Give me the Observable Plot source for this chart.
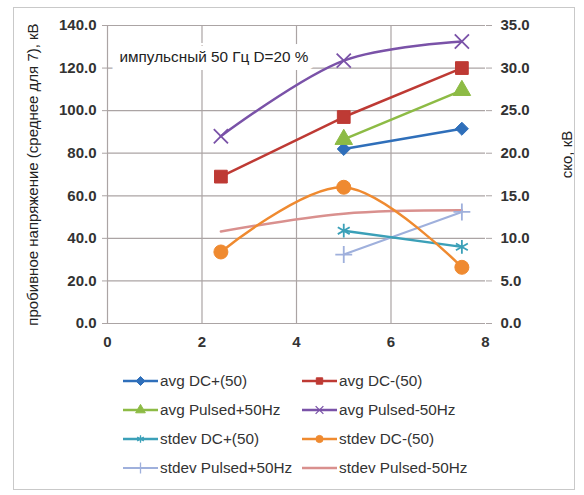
<!DOCTYPE html>
<html>
<head>
<meta charset="utf-8">
<script src="https://cdn.jsdelivr.net/npm/d3@7"></script>
<script src="https://cdn.jsdelivr.net/npm/@observablehq/plot@0.6"></script>
<style>
  html, body { margin: 0; padding: 0; background: #fff; }
  #wrap { position: relative; width: 584px; height: 495px; font-family: "Liberation Sans", Arial, sans-serif; }
  #frame { position: absolute; left: 13px; top: 7px; width: 560px; height: 481px; border: 1.5px solid #c9c9c9; pointer-events: none; }
  #chart { position: absolute; left: 0; top: 0; }
  #legend { position: absolute; left: 122px; top: 366px; display: grid; grid-template-columns: 179px 210px; grid-auto-rows: 29px; }
  .item { display: flex; align-items: center; font-size: 15.3px; color: #333; white-space: nowrap; }
  .item svg { margin-right: 1px; }
</style>
</head>
<body>
<div id="wrap">
  <div id="chart"></div>
  <div id="legend"></div>
  <div id="frame"></div>
</div>
<script>
// ---- data ----
const xValues = [2.4, 5, 7.5];
const avgDCPlus = [null, 82, 91.5];
const avgDCMinus = [69, 97, 120];
const avgPulsedPlus = [null, 86.5, 109.5];
const avgPulsedMinus = [88, 123.5, 132.5];
const stdevDCPlus = [null, 10.9, 9.0];
const stdevDCMinus = [8.4, 16.0, 6.6];
const stdevPulsedPlus = [null, 8.1, 13.1];
const stdevPulsedMinus = [10.8, 12.9, 13.3];
const seriesNames = ["avg DC+(50)", "avg DC-(50)", "avg Pulsed+50Hz", "avg Pulsed-50Hz",
                     "stdev DC+(50)", "stdev DC-(50)", "stdev Pulsed+50Hz", "stdev Pulsed-50Hz"];
const xTicks = [0, 2, 4, 6, 8];
const leftTicks = [0, 20, 40, 60, 80, 100, 120, 140];
const rightTicks = [0, 5, 10, 15, 20, 25, 30, 35];
const leftTitle = "пробивное напряжение (среднее для 7), кВ";
const rightTitle = "ско, кВ";
const annotation = "импульсный 50 Гц D=20 %";

// ---- styles ----
const seriesValues = [avgDCPlus, avgDCMinus, avgPulsedPlus, avgPulsedMinus,
                      stdevDCPlus, stdevDCMinus, stdevPulsedPlus, stdevPulsedMinus];
const onRight = [false, false, false, false, true, true, true, true];
const colors = ["#2f6fba", "#be3a34", "#8dbb45", "#7a52a8", "#3ba0b8", "#ef8a30", "#9fb0dc", "#d9908e"];
const rhombus = {
  draw(context, size) {
    const r = Math.sqrt(size / 2);
    context.moveTo(0, -r); context.lineTo(r, 0); context.lineTo(0, r); context.lineTo(-r, 0); context.closePath();
  }
};
const symbols = [rhombus, "square", "triangle", "times", "asterisk", "circle", "plus", null];
const symbolFill = [true, true, true, false, false, true, false, false];
const radii = [5.2, 7.2, 6.5, 6.5, 6.5, 7, 5.5, 0];
const widths = [2.5, 2.5, 2.5, 2.5, 2.5, 2.5, 2, 2.5];
const curves = ["linear", "linear", "linear", "catmull-rom", "linear", "catmull-rom", "linear", "catmull-rom"];

const scale = 140 / 35; // right axis -> left axis

const marks = [];
const grid = "#aba4a4";
marks.push(Plot.gridY(leftTicks, {stroke: grid, strokeOpacity: 1, strokeWidth: 1.2}));
marks.push(Plot.ruleX(xTicks.filter(d => d < 8), {y1: 0, y2: 140, stroke: grid, strokeWidth: 1.2}));
marks.push(Plot.text([annotation], {frameAnchor: "top-left", dx: 12, dy: 26, textAnchor: "start",
  fontSize: 15.3, fill: "#222", stroke: "white", strokeWidth: 16, paintOrder: "stroke", strokeLinejoin: "miter"}));

const order = [7, 6, 4, 5, 0, 2, 1, 3];
for (const i of order) {
  const data = xValues.map((x, k) => ({x, v: seriesValues[i][k]})).filter(d => d.v != null);
  const yf = onRight[i] ? (d => d.v * scale) : (d => d.v);
  marks.push(Plot.line(data, {x: "x", y: yf, stroke: colors[i], strokeWidth: widths[i], curve: curves[i]}));
  if (symbols[i]) {
    marks.push(Plot.dot(data, {x: "x", y: yf, symbol: () => symbols[i], r: radii[i],
      fill: symbolFill[i] ? colors[i] : "none", stroke: colors[i], strokeWidth: symbolFill[i] ? 1 : 1.8}));
  }
}

marks.push(Plot.axisY(leftTicks, {anchor: "left", tickFormat: d => d.toFixed(1), tickSize: 5, stroke: grid,
  tickPadding: 6, fontSize: 15, fontWeight: "bold", fill: "#333", label: null}));
marks.push(Plot.axisY(leftTicks, {anchor: "right", tickFormat: d => (d / scale).toFixed(1), tickSize: 6, stroke: grid,
  tickPadding: 9, fontSize: 15, fontWeight: "bold", fill: "#333", label: null}));
marks.push(Plot.axisX(xTicks, {anchor: "bottom", tickFormat: d => String(d), tickSize: 0, tickPadding: 13,
  fontSize: 15, fontWeight: "bold", fill: "#333", label: null}));
marks.push(Plot.text([leftTitle], {frameAnchor: "left", textAnchor: "middle", dx: -74, rotate: -90, fontSize: 15, fill: "#222"}));
marks.push(Plot.text([rightTitle], {frameAnchor: "right", textAnchor: "middle", dx: 82, dy: -20, rotate: -90, fontSize: 15, fill: "#222"}));

const chart = Plot.plot({
  width: 584, height: 350,
  marginLeft: 107, marginRight: 99, marginTop: 25, marginBottom: 27,
  style: {fontFamily: "Liberation Sans, Arial, sans-serif", fontSize: "15px", color: "#222", background: "transparent", overflow: "visible"},
  x: {domain: [0, 8], axis: null},
  y: {domain: [0, 140], axis: null},
  marks
});
document.getElementById("chart").appendChild(chart);

// ---- legend ----
const legend = d3.select("#legend");
const symMap = {square: d3.symbolSquare, triangle: d3.symbolTriangle,
  times: d3.symbolTimes, asterisk: d3.symbolAsterisk, circle: d3.symbolCircle, plus: d3.symbolPlus};
seriesNames.forEach((name, i) => {
  const item = legend.append("div").attr("class", "item");
  const svg = item.append("svg").attr("width", 37).attr("height", 14);
  svg.append("line").attr("x1", 1).attr("x2", 36).attr("y1", 7).attr("y2", 7)
    .attr("stroke", colors[i]).attr("stroke-width", widths[i]);
  if (symbols[i]) {
    const t = typeof symbols[i] === "string" ? symMap[symbols[i]] : symbols[i];
    svg.append("path").attr("transform", "translate(18.5,7)")
      .attr("d", d3.symbol(t, Math.PI * 3.6 * 3.6)())
      .attr("fill", symbolFill[i] ? colors[i] : "none")
      .attr("stroke", colors[i]).attr("stroke-width", symbolFill[i] ? 1 : 1.3);
  }
  item.append("span").text(name);
});
</script>
</body>
</html>
